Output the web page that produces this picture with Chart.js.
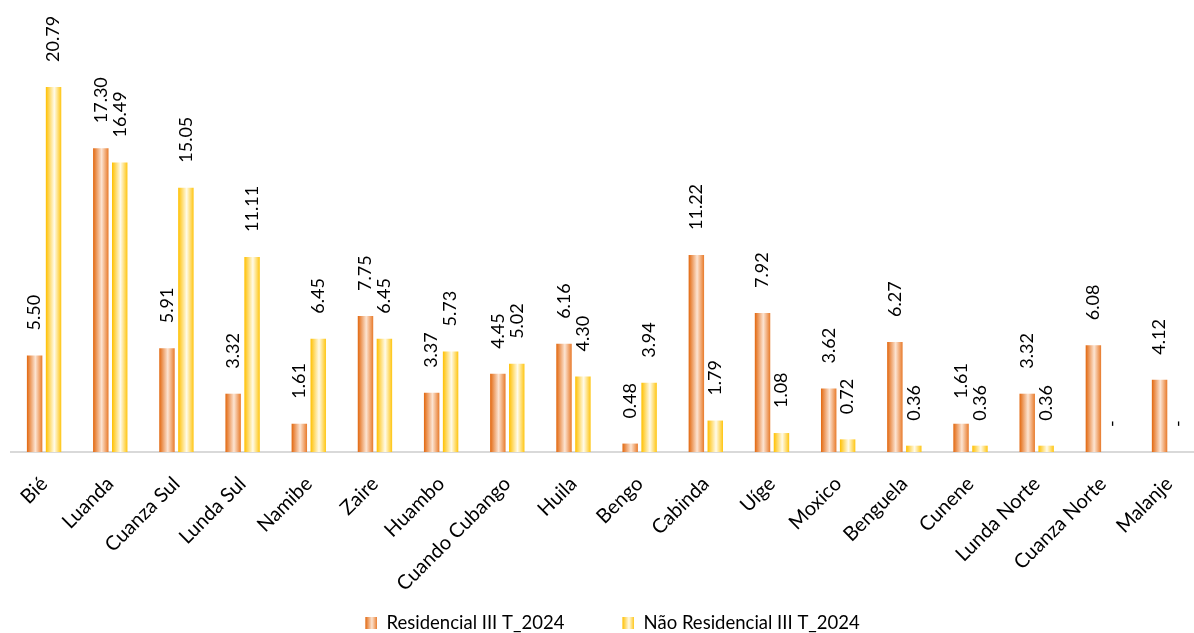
<!DOCTYPE html>
<html>
<head>
<meta charset="utf-8">
<script src="https://cdn.jsdelivr.net/npm/chart.js@4.4.0/dist/chart.umd.min.js"></script>
<style>
html, body { margin: 0; padding: 0; overflow: hidden; background: #fff; }
#wrap { width: 1206px; height: 633px; }
</style>
</head>
<body>
<div id="wrap"><canvas id="myChart"></canvas></div>
<script>
const provinces = ['Bié', 'Luanda', 'Cuanza Sul', 'Lunda Sul', 'Namibe', 'Zaire', 'Huambo', 'Cuando Cubango', 'Huila', 'Bengo', 'Cabinda', 'Uíge', 'Moxico', 'Benguela', 'Cunene', 'Lunda Norte', 'Cuanza Norte', 'Malanje'];
const residencial = [5.50, 17.30, 5.91, 3.32, 1.61, 7.75, 3.37, 4.45, 6.16, 0.48, 11.22, 7.92, 3.62, 6.27, 1.61, 3.32, 6.08, 4.12];
const naoResidencial = [20.79, 16.49, 15.05, 11.11, 6.45, 6.45, 5.73, 5.02, 4.30, 3.94, 1.79, 1.08, 0.72, 0.36, 0.36, 0.36, 0, 0];
const seriesNames = ['Residencial III T_2024', 'Não Residencial III T_2024'];

const orangeStops = [[0, '#E2670E'], [0.55, '#FCE4D2'], [1, '#E87A2A']];
const yellowStops = [[0, '#FFC000'], [0.55, '#FFFBEA'], [1, '#FFC510']];

const CAT_PCT = 0.572;
const BAR_PCT = 0.816;
const FONT = 'Lato';

// horizontal gradient across each bar, worked out from the x scale
function barFill(stops, side) {
    return function(context) {
        const chart = context.chart;
        const xs = chart.scales.x;
        if (!xs || context.dataIndex === undefined) return stops[0][1];
        const catW = xs.width / provinces.length;
        const slot = catW * CAT_PCT / 2;
        const cx = xs.getPixelForValue(context.dataIndex) + side * slot / 2;
        const half = slot * BAR_PCT / 2;
        const g = chart.ctx.createLinearGradient(cx - half, 0, cx + half, 0);
        stops.forEach(s => g.addColorStop(s[0], s[1]));
        return g;
    };
}

// legend swatch: transparent space on the left, small gradient box on the right
const SWATCH_W = 60;
function swatch(stops) {
    const c = document.createElement('canvas');
    c.width = SWATCH_W;
    c.height = 12;
    const g = c.getContext('2d');
    const x0 = SWATCH_W - 12;
    const gr = g.createLinearGradient(x0, 0, SWATCH_W, 0);
    stops.forEach(s => gr.addColorStop(s[0], s[1]));
    g.fillStyle = gr;
    g.fillRect(x0, 0, 12, 12);
    return c;
}

const valueLabels = {
    id: 'valueLabels',
    afterDatasetsDraw(chart) {
        const ctx = chart.ctx;
        ctx.save();
        ctx.font = '18px ' + FONT;
        ctx.fillStyle = '#000';
        ctx.textAlign = 'left';
        ctx.textBaseline = 'middle';
        chart.data.datasets.forEach((ds, i) => {
            chart.getDatasetMeta(i).data.forEach((bar, j) => {
                const v = ds.data[j];
                const txt = v === 0 ? '-' : v.toFixed(2);
                ctx.save();
                ctx.translate(bar.x, bar.y - 25);
                ctx.rotate(-Math.PI / 2);
                ctx.fillText(txt, 0, 0);
                ctx.restore();
            });
        });
        ctx.restore();
    }
};

// nudge the legend row down and left, as in the picture
const legendShift = {
    id: 'legendShift',
    afterLayout(chart) {
        const l = chart.legend;
        if (l) {
            l.top += 9;
            l.bottom += 9;
            l.left -= 20;
            l.right -= 20;
        }
    }
};

const swatches = [swatch(orangeStops), swatch(yellowStops)];

new Chart(document.getElementById('myChart').getContext('2d'), {
    type: 'bar',
    data: {
        labels: provinces,
        datasets: [
            {
                label: seriesNames[0],
                data: residencial,
                backgroundColor: barFill(orangeStops, -1),
                categoryPercentage: CAT_PCT,
                barPercentage: BAR_PCT
            },
            {
                label: seriesNames[1],
                data: naoResidencial,
                backgroundColor: barFill(yellowStops, 1),
                categoryPercentage: CAT_PCT,
                barPercentage: BAR_PCT
            }
        ]
    },
    options: {
        responsive: true,
        maintainAspectRatio: false,
        animation: false,
        layout: { padding: { top: 13, left: 11, right: 0, bottom: 0 } },
        plugins: {
            tooltip: { enabled: false },
            legend: {
                position: 'bottom',
                labels: {
                    usePointStyle: true,
                    pointStyleWidth: SWATCH_W,
                    padding: 10,
                    color: '#000',
                    font: { family: FONT, size: 18.5 },
                    generateLabels: (chart) => seriesNames.map((name, i) => ({
                        text: name,
                        pointStyle: swatches[i],
                        fillStyle: 'transparent',
                        strokeStyle: 'transparent',
                        lineWidth: 0,
                        hidden: false,
                        datasetIndex: i
                    }))
                }
            }
        },
        scales: {
            x: {
                grid: { display: false, drawTicks: false },
                border: { display: true, color: '#D9D9D9', width: 2 },
                ticks: {
                    autoSkip: false,
                    maxRotation: 45,
                    minRotation: 45,
                    padding: 20,
                    color: '#000',
                    font: { family: FONT, size: 20 }
                },
                afterFit: (scale) => { scale.height = 142.5; }
            },
            y: {
                display: false,
                min: 0,
                max: 25
            }
        }
    },
    plugins: [valueLabels, legendShift]
});
</script>
</body>
</html>
